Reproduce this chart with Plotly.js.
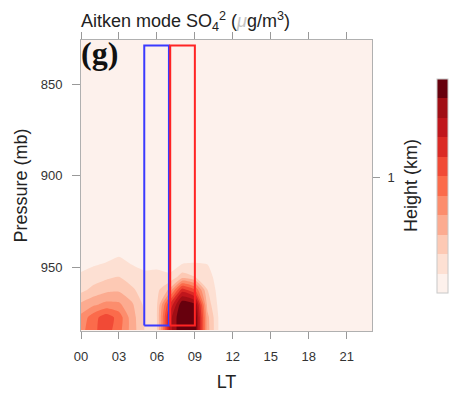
<!DOCTYPE html>
<html>
<head>
<meta charset="utf-8">
<script src="https://cdn.plot.ly/plotly-3.0.1.min.js"></script>
<style>html,body{margin:0;padding:0;background:#fff;}</style>
</head>
<body>
<div id="chart" style="width:451px;height:397px;"></div>
<script>
// Local time (hours)
var hours = [0,1,2,3,4,5,6,7,8,9,10,11,12,13,14,15,16,17,18,19,20,21,22,23];
// Pressure levels (mb)
var pressure = [984, 977, 970, 962, 955, 947, 938, 925, 900, 850, 826];
// Concentration (contour level index units) per pressure level, hours 0..23
var conc984 = [4.6,5.8,6.5,5.4,3.6,2.0,1.9,8.5,11.2,11.0,3.4,0.6,0.2,0.2,0.2,0.2,0.2,0.2,0.2,0.2,0.2,0.2,0.2,0.2];
var conc977 = [4.3,5.6,6.6,5.6,3.5,2.0,2.0,8.5,11.2,11.0,3.3,0.6,0.2,0.2,0.2,0.2,0.2,0.2,0.2,0.2,0.2,0.2,0.2,0.2];
var conc970 = [3.2,3.8,4.3,4.2,3.2,1.8,1.9,7.0,10.8,10.2,2.6,0.5,0.2,0.2,0.2,0.2,0.2,0.2,0.2,0.2,0.2,0.2,0.2,0.2];
var conc962 = [1.7,2.3,2.7,2.8,2.2,1.5,1.7,3.2,7.5,6.0,2.0,0.4,0.2,0.2,0.2,0.2,0.2,0.2,0.2,0.2,0.2,0.2,0.2,0.2];
var conc955 = [1.2,1.5,1.8,2.0,1.5,1.3,1.4,1.2,2.5,2.0,1.5,0.3,0.2,0.2,0.2,0.2,0.2,0.2,0.2,0.2,0.2,0.2,0.2,0.2];
var conc947 = [0.6,0.8,1.0,1.25,0.9,0.6,0.6,0.5,0.8,0.95,0.9,0.3,0.2,0.2,0.2,0.2,0.2,0.2,0.2,0.2,0.2,0.2,0.2,0.2];
var conc938 = [0.3,0.3,0.4,0.5,0.4,0.3,0.3,0.3,0.3,0.4,0.4,0.2,0.2,0.2,0.2,0.2,0.2,0.2,0.2,0.2,0.2,0.2,0.2,0.2];
var conc925 = [0.1,0.1,0.1,0.1,0.1,0.1,0.1,0.1,0.1,0.1,0.1,0.1,0.1,0.1,0.1,0.1,0.1,0.1,0.1,0.1,0.1,0.1,0.1,0.1];
var conc900 = [0.1,0.1,0.1,0.1,0.1,0.1,0.1,0.1,0.1,0.1,0.1,0.1,0.1,0.1,0.1,0.1,0.1,0.1,0.1,0.1,0.1,0.1,0.1,0.1];
var conc850 = [0.1,0.1,0.1,0.1,0.1,0.1,0.1,0.1,0.1,0.1,0.1,0.1,0.1,0.1,0.1,0.1,0.1,0.1,0.1,0.1,0.1,0.1,0.1,0.1];
var conc826 = [0.1,0.1,0.1,0.1,0.1,0.1,0.1,0.1,0.1,0.1,0.1,0.1,0.1,0.1,0.1,0.1,0.1,0.1,0.1,0.1,0.1,0.1,0.1,0.1];

var xTickVals = [0,3,6,9,12,15,18,21];
var xTickText = ['00','03','06','09','12','15','18','21'];
var yTickVals = [850,900,950];
var heightTickPressure = [901];
var heightTickText = ['1'];

// Highlighted time windows (hours) and pressure extent (mb)
var blueWindow = [5.0, 6.95];
var redWindow = [7.05, 9.0];
var windowPressure = [981.5, 829];

var bandColors = ['#fdf1ec','#fde0d3','#fdc9b4','#fcab90','#fc8d6d','#fb6b4b','#f14a36','#db2a25','#c0161c','#a10e15','#67000d'];

var z = [conc984, conc977, conc970, conc962, conc955, conc947, conc938, conc925, conc900, conc850, conc826];

var n = bandColors.length;
var cs = [];
for (var i = 0; i < n; i++) {
  cs.push([i / n, bandColors[i]]);
  cs.push([(i + 1) / n, bandColors[i]]);
}

function boxTrace(win, color) {
  return {
    type: 'scatter', mode: 'lines',
    x: [win[0], win[1], win[1], win[0], win[0]],
    y: [windowPressure[0], windowPressure[0], windowPressure[1], windowPressure[1], windowPressure[0]],
    line: {color: color, width: 2},
    hoverinfo: 'skip', showlegend: false
  };
}

var traces = [
  {
    type: 'contour', x: hours, y: pressure, z: z,
    zmin: 0, zmax: n, colorscale: cs,
    autocontour: false,
    contours: {start: 1, end: 10, size: 1, coloring: 'fill', showlines: false},
    line: {width: 0, smoothing: 0.5},
    colorbar: {
      x: 1.223, xanchor: 'left', xref: 'paper',
      y: 0.498, yanchor: 'middle', len: 0.735, lenmode: 'fraction',
      thickness: 11, thicknessmode: 'pixels',
      showticklabels: false, ticks: '',
      outlinewidth: 1, outlinecolor: '#c8c8c8',
      xpad: 0, ypad: 0
    },
    showlegend: false
  },
  boxTrace(blueWindow, '#3a3aff'),
  boxTrace(redWindow, '#ff2424'),
  {
    type: 'scatter', mode: 'markers', x: [0], y: [heightTickPressure[0]],
    yaxis: 'y2', marker: {opacity: 0}, hoverinfo: 'skip', showlegend: false
  }
];

var axisFont = {family: 'Liberation Sans, Arial, sans-serif', size: 13, color: '#333'};

var layout = {
  width: 451, height: 397,
  margin: {l: 81, r: 79, t: 40, b: 66, pad: 0, autoexpand: false},
  paper_bgcolor: '#ffffff',
  plot_bgcolor: bandColors[0],
  font: {family: 'Liberation Sans, Arial, sans-serif', color: '#222'},
  title: {
    text: 'Aitken mode SO<sub>4</sub><sup>2</sup> (<span style="color:#c4c4c4"><i>μ</i></span>g/m<sup>3</sup>)',
    font: {size: 18, color: '#222'},
    x: 81 / 451, xanchor: 'left', xref: 'container',
    y: 1 - 21 / 397, yanchor: 'middle', yref: 'container'
  },
  xaxis: {
    range: [0, 23], tickvals: xTickVals, ticktext: xTickText,
    ticks: 'outside', ticklen: 7, tickcolor: '#999', tickwidth: 1,
    showline: true, linecolor: '#b0b0b0', linewidth: 1, mirror: 'allticks',
    showgrid: false, zeroline: false, tickfont: axisFont, automargin: false,
    ticklabelstandoff: 6,
    title: {text: 'LT', font: {size: 18, color: '#222'}, standoff: 12}
  },
  yaxis: {
    range: [984.5, 826], tickvals: yTickVals,
    ticks: 'outside', ticklen: 8, tickcolor: '#999', tickwidth: 1,
    showline: true, linecolor: '#b0b0b0', linewidth: 1, mirror: true,
    showgrid: false, zeroline: false, tickfont: axisFont, automargin: false,
    ticklabelstandoff: 7,
    title: {text: 'Pressure (mb)', font: {size: 18, color: '#222'}, standoff: 8}
  },
  yaxis2: {
    overlaying: 'y', side: 'right', range: [984.5, 826],
    tickvals: heightTickPressure, ticktext: heightTickText,
    ticks: 'outside', ticklen: 7, tickcolor: '#999', tickwidth: 1,
    showline: false, showgrid: false, zeroline: false, tickfont: axisFont, automargin: false,
    ticklabelstandoff: 5,
    title: {text: 'Height (km)', font: {size: 18, color: '#222'}, standoff: 10}
  },
  annotations: [{
    text: '<b>(g)</b>', xref: 'paper', yref: 'paper',
    x: -0.006, y: 1.025, xanchor: 'left', yanchor: 'top', showarrow: false,
    font: {family: 'Liberation Serif, Times New Roman, serif', size: 32, color: '#111'}
  }]
};

Plotly.newPlot('chart', traces, layout, {displayModeBar: false, staticPlot: true});
</script>
</body>
</html>
